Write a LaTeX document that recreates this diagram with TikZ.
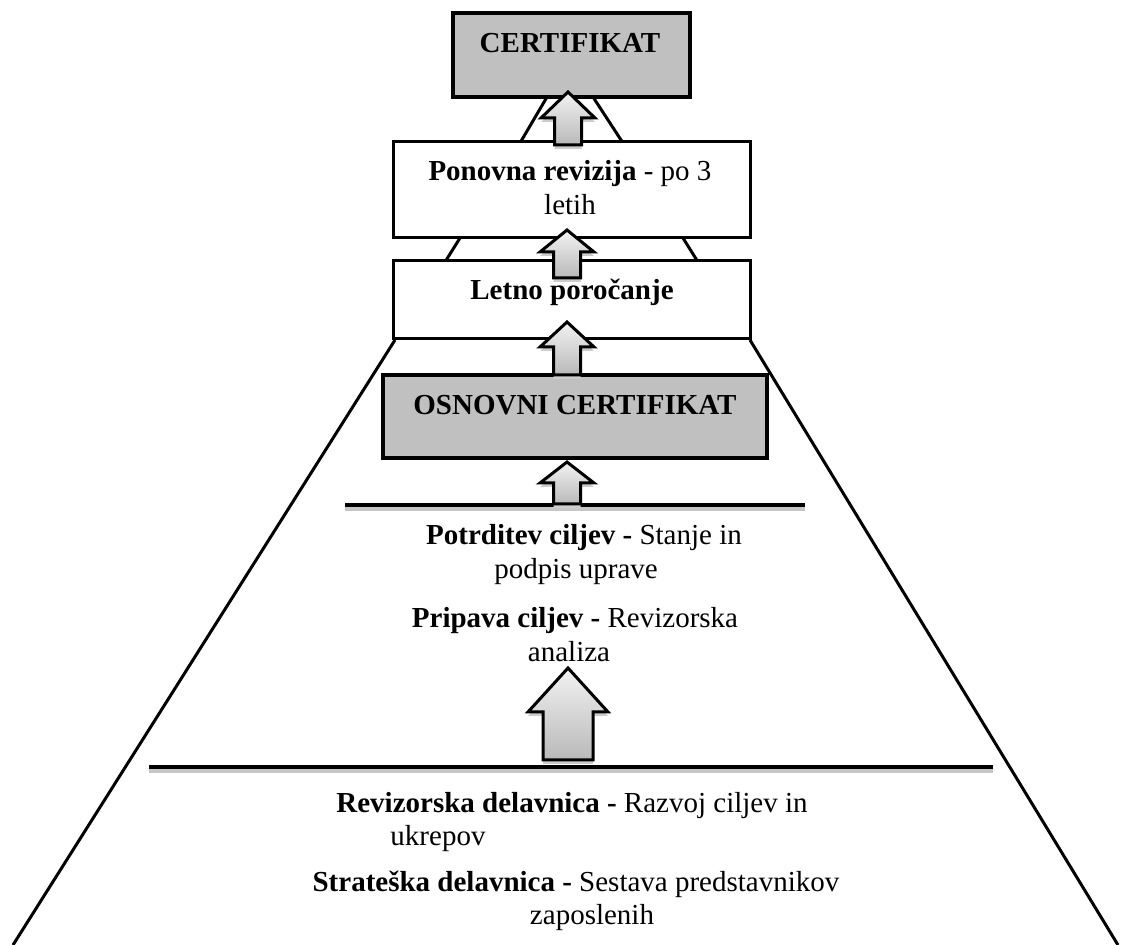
\documentclass[tikz,border=0pt]{standalone}
\usepackage{fontspec}
\setmainfont{Liberation Serif}
\definecolor{boxgray}{RGB}{192,192,192}
\tikzset{
  txt/.style={anchor=base, inner sep=0pt, font=\fontsize{14.5}{17}\selectfont},
  whitebox/.style={draw, line width=1.5pt, fill=white},
  graybox/.style={draw, line width=2.3pt, fill=boxgray},
  side/.style={line width=1.5pt},
  floor/.style={line width=2pt},
  floorshadow/.style={line width=1.6pt, gray!45},
  upblock/.style={draw, line width=1.5pt, top color=gray!10, bottom color=gray!55},
  upshadow/.style={fill=gray!40},
}
% x, tip, head base, bottom, half head, half shaft
\newcommand{\blockup}[6]{%
  \fill[upshadow] (#1,#2+4) -- (#1+#5,#3+4) -- (#1+#6,#3+4) -- (#1+#6,#4+4)
    -- (#1-#6,#4+4) -- (#1-#6,#3+4) -- (#1-#5,#3+4) -- cycle;
  \draw[upblock] (#1,#2) -- (#1+#5,#3) -- (#1+#6,#3) -- (#1+#6,#4)
    -- (#1-#6,#4) -- (#1-#6,#3) -- (#1-#5,#3) -- cycle;}
\begin{document}
\begin{tikzpicture}[x=0.5pt,y=-0.5pt]
\useasboundingbox (0,0) rectangle (1125,945);
% pyramid sides
\draw[side] (547,97) -- (520,143);
\draw[side] (593,97) -- (623,143);
\draw[side] (460,238) -- (445,262);
\draw[side] (683,238) -- (698,262);
\draw[side] (395,340) -- (13,945);
\draw[side] (750,340) -- (1118,945);
% boxes
\draw[graybox] (453,13) rectangle (690,97);
\draw[whitebox] (393,142) rectangle (750,238);
\draw[whitebox] (393,261) rectangle (750,339);
\draw[graybox] (383,375) rectangle (767,458);
% floors
\draw[floorshadow] (345,509) -- (805,509);
\draw[floor] (345,505) -- (805,505);
\draw[floorshadow] (149,771) -- (993,771);
\draw[floor] (149,767) -- (993,767);
% arrows
\blockup{568}{92}{118}{145}{27}{13.5}
\blockup{567}{230}{252}{278}{27}{13.5}
\blockup{567}{322}{347}{375}{27}{13.5}
\blockup{567}{462}{483}{504}{27}{13.5}
\blockup{568}{668}{712}{760}{40}{25}
% texts
\node[txt] (certtop) at (570,53) {\textbf{CERTIFIKAT}};
\node[txt] (ponovna) at (570,181) {\textbf{Ponovna revizija} - po 3};
\node[txt] (ponovnab) at (570,215) {letih};
\node[txt] (letno) at (572,300) {\textbf{Letno poročanje}};
\node[txt] (osnovni) at (575,415) {\textbf{OSNOVNI CERTIFIKAT}};
\node[txt] (potrditev) at (584,545) {\textbf{Potrditev ciljev -} Stanje in};
\node[txt] (potrditevb) at (576,579) {podpis uprave};
\node[txt] (priprava) at (575,628) {\textbf{Pripava ciljev -} Revizorska};
\node[txt] (pripravab) at (569,662) {analiza};
\node[txt] (revdel) at (572,813) {\textbf{Revizorska delavnica -} Razvoj ciljev in};
\node[txt] (revdelb) at (438,846) {ukrepov};
\node[txt] (strdel) at (576,892) {\textbf{Strateška delavnica -} Sestava predstavnikov};
\node[txt] (strdelb) at (592,925) {zaposlenih};
\end{tikzpicture}
\end{document}
